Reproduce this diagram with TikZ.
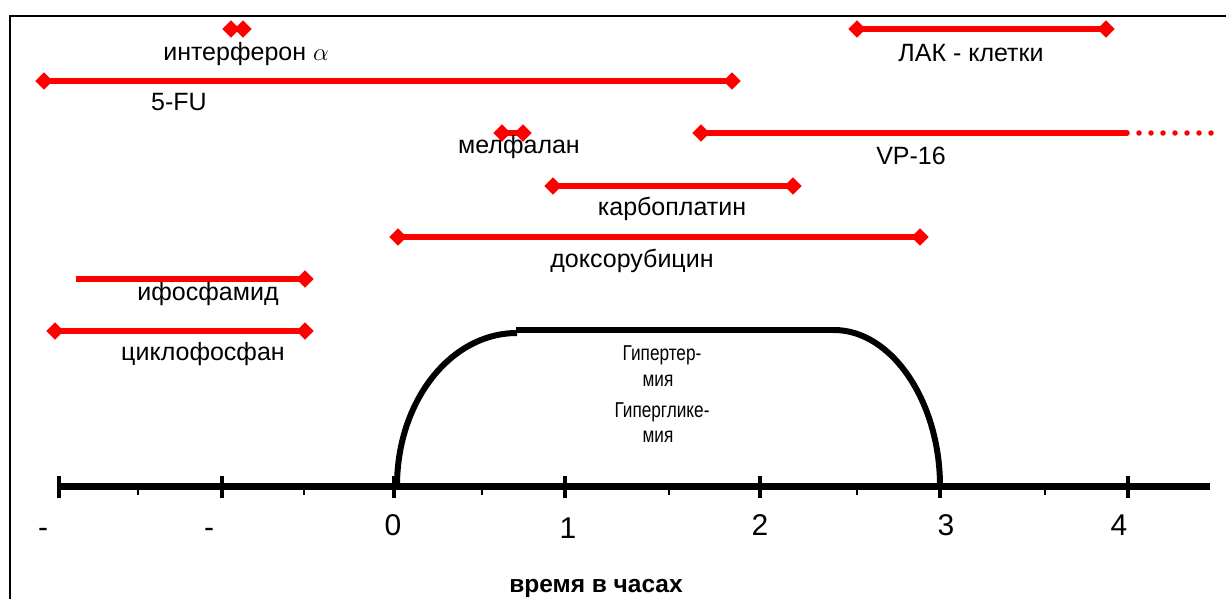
\documentclass[tikz,border=0pt]{standalone}
\usepackage{fontspec}
\setmainfont{Liberation Sans}
\usetikzlibrary{shapes.geometric}
\newcommand{\narrowtxt}[1]{\scalebox{0.8}[1]{#1}}
\begin{document}
\begin{tikzpicture}[x=1pt,y=-1pt,
  dia/.style={diamond,fill=red,inner sep=0pt,minimum size=17pt},
  bar/.style={red,line width=5.5pt},
  lbl/.style={font=\fontsize{25}{29}\selectfont,inner sep=0pt,anchor=base},
  hlbl/.style={font=\fontsize{21.5}{25}\selectfont,inner sep=0pt,anchor=base},
  num/.style={font=\fontsize{30}{34}\selectfont,inner sep=0pt,anchor=base},
  majtick/.style={line width=4pt},
  mintick/.style={line width=2pt},
  axisline/.style={line width=7pt},
  hump/.style={line width=6pt}]
\useasboundingbox (0,0) rectangle (1226,598);
\clip (0,0) rectangle (1226,598);
\fill[white] (0,0) rectangle (1226,598);
% frame
\draw[line width=2pt] (10,620) -- (10,16) -- (1240,16);

% interferon
\node[dia] (ia) at (231,29) {};
\node[dia] (ib) at (243,29) {};
\node[lbl] (il) at (246,60) {интерферон $\alpha$};
% 5-FU
\node[dia] (fa) at (44,81) {};
\node[dia] (fb) at (732,81) {};
\draw[bar] (fa.center) -- (fb.center);
\node[lbl] (fl) at (179,110) {5-FU};
% LAK
\node[dia] (la) at (857,29) {};
\node[dia] (lb) at (1106,29) {};
\draw[bar] (la.center) -- (lb.center);
\node[lbl] (ll) at (971,61) {ЛАК - клетки};
% melphalan
\node[dia] (ma) at (502,133) {};
\node[dia] (mb) at (523,133) {};
\draw[bar] (ma.center) -- (mb.center);
\node[lbl] (ml) at (519,153) {мелфалан};
% VP-16
\node[dia] (va) at (701,133) {};
\coordinate (vb) at (1127,133);
\coordinate (vc) at (1214,133);
\draw[bar,line cap=round] (va.center) -- (vb);
\draw[red,line width=5.5pt,line cap=round,dash pattern=on 0pt off 12pt] ([xshift=12pt]vb) -- (vc);
\node[lbl] (vl) at (911,164) {VP-16};
% carboplatin
\node[dia] (ca) at (553,186) {};
\node[dia] (cb) at (793,186) {};
\draw[bar] (ca.center) -- (cb.center);
\node[lbl] (cl) at (672,215) {карбоплатин};
% doxorubicin
\node[dia] (da) at (398,237) {};
\node[dia] (db) at (920,237) {};
\draw[bar] (da.center) -- (db.center);
\node[lbl] (dl) at (632,267) {доксорубицин};
% ifosfamide
\coordinate (fsa) at (76,279);
\node[dia] (fsb) at (305,279) {};
\draw[bar] (fsa) -- (fsb.center);
\node[lbl] (fsl) at (208,300) {ифосфамид};
% cyclophosphane
\node[dia] (cya) at (55,331) {};
\node[dia] (cyb) at (305,331) {};
\draw[bar] (cya.center) -- (cyb.center);
\node[lbl] (cyl) at (203,360) {циклофосфан};
% re-draw diamonds on top
\foreach \n in {ia,ib,fa,fb,la,lb,ma,mb,va,ca,cb,da,db,fsb,cya,cyb}{\fill[red] (\n.north) -- (\n.east) -- (\n.south) -- (\n.west) -- cycle;}

% hump
\coordinate (h0) at (397,486);
\coordinate (h1) at (517,333);
\coordinate (h2) at (516,330);
\coordinate (h3) at (834,330);
\coordinate (h4) at (940,486);
\draw[hump] (h0) .. controls (397,402) and (450,333) .. (h1);
\draw[hump] (h2) -- (h3);
\draw[hump] (h3) .. controls (892,330) and (940,402) .. (h4);
\node[hlbl] (t1) at (662,360) {\narrowtxt{Гипертер-}};
\node[hlbl] (t2) at (658,386) {\narrowtxt{мия}};
\node[hlbl] (t3) at (662,417) {\narrowtxt{Гиперглике-}};
\node[hlbl] (t4) at (658,442) {\narrowtxt{мия}};

% axis
\coordinate (ax0) at (57,486);
\coordinate (ax1) at (1210,486);
\draw[axisline] (ax0) -- (ax1);
\foreach \x in {59,222,394,565,760,940,1128}{\draw[majtick] (\x,476) -- (\x,498);}
\foreach \x in {138,304,482,669,857,1045}{\draw[mintick] (\x,486) -- (\x,495);}
\node[num] (n1) at (43,537) {-};
\node[num] (n2) at (209,537) {-};
\node[num] (n3) at (393,535) {0};
\node[num] (n4) at (568,538) {1};
\node[num] (n5) at (760,535) {2};
\node[num] (n6) at (946,535) {3};
\node[num] (n7) at (1119,535) {4};
\node[font=\fontsize{24.5}{28}\selectfont\bfseries,inner sep=0pt,anchor=base] (xl) at (596,592) {время в часах};
\end{tikzpicture}
\end{document}
